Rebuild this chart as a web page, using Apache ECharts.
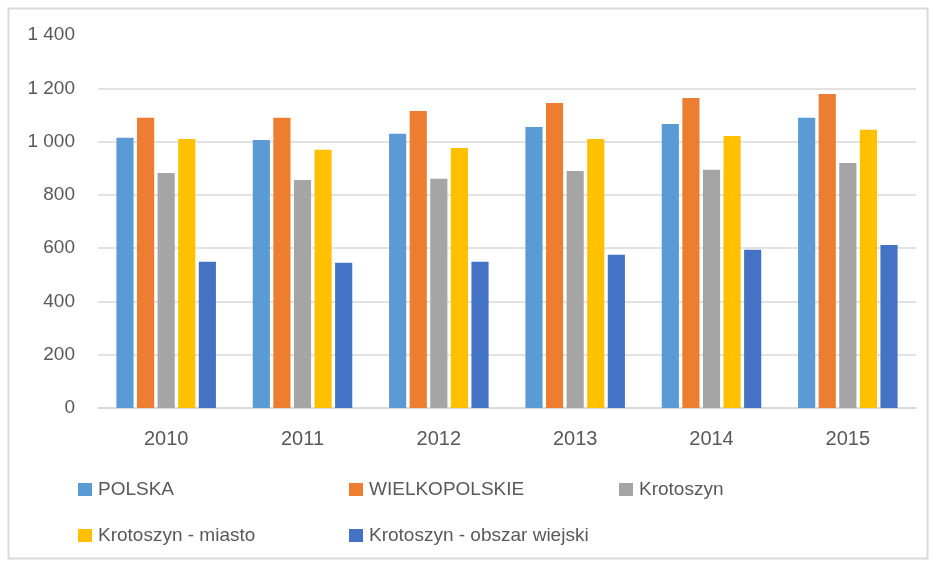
<!DOCTYPE html>
<html>
<head>
<meta charset="utf-8">
<script src="https://cdn.jsdelivr.net/npm/echarts@6/dist/echarts.min.js"></script>
<style>
html,body{margin:0;padding:0;background:#fff;}
#chart{width:930px;height:562px;}
</style>
</head>
<body>
<div id="chart"></div>
<script>
var years = ['2010', '2011', '2012', '2013', '2014', '2015'];
var seriesNames = ['POLSKA', 'WIELKOPOLSKIE', 'Krotoszyn', 'Krotoszyn - miasto', 'Krotoszyn - obszar wiejski'];
var polska = [1014, 1006, 1029, 1055, 1066, 1089];
var wielkopolskie = [1089, 1089, 1115, 1145, 1164, 1179];
var krotoszyn = [882, 856, 860, 890, 894, 920];
var krotoszynMiasto = [1010, 969, 976, 1010, 1021, 1044];
var krotoszynWies = [549, 545, 549, 575, 594, 612];
var yTicks = [0, 200, 400, 600, 800, 1000, 1200, 1400];

var colors = ['#5B9BD5', '#ED7D31', '#A5A5A5', '#FFC000', '#4472C4'];
var values = [polska, wielkopolskie, krotoszyn, krotoszynMiasto, krotoszynWies];

var legendPos = [[78, 480], [349, 480], [619, 480], [78, 526], [349, 526]];

var chart = echarts.init(document.getElementById('chart'));
var option = {
  animation: false,
  backgroundColor: '#fff',
  color: colors,
  grid: {left: 98, right: 14, top: 35, bottom: 154},
  graphic: [{
    type: 'rect', left: 6, top: 6,
    shape: {x: 0, y: 0, width: 919, height: 550},
    style: {fill: 'none', stroke: '#d9d9d9', lineWidth: 2},
    silent: true
  }],
  legend: seriesNames.map(function (n, i) {
    return {
      data: [n], left: legendPos[i][0], top: legendPos[i][1], padding: 0,
      itemWidth: 14, itemHeight: 13, itemGap: 6, icon: 'rect',
      textStyle: {color: '#595959', fontSize: 19, fontFamily: 'Liberation Sans', padding: [0, 0, 0, 1]}
    };
  }),
  xAxis: {
    type: 'category', data: years,
    axisLine: {show: true, lineStyle: {color: '#d9d9d9', width: 1.5}},
    axisTick: {show: false},
    axisLabel: {color: '#595959', fontSize: 20, fontFamily: 'Liberation Sans', margin: 21}
  },
  yAxis: {
    type: 'value', min: yTicks[0], max: yTicks[yTicks.length - 1], interval: 200,
    axisLine: {show: false}, axisTick: {show: false},
    splitLine: {lineStyle: {color: ['#d9d9d9', '#d9d9d9', '#d9d9d9', '#d9d9d9', '#d9d9d9', '#d9d9d9', '#d9d9d9', 'rgba(0,0,0,0)'], width: 1.5}},
    axisLabel: {
      color: '#595959', fontSize: 19, fontFamily: 'Liberation Sans', margin: 23,
      formatter: function (v) { return String(v).replace(/\B(?=(\d{3})+(?!\d))/g, ' '); }
    }
  },
  series: seriesNames.map(function (n, i) {
    return {
      name: n, type: 'bar', data: values[i],
      barCategoryGap: '27%', barGap: '20%',
      itemStyle: {color: colors[i]}
    };
  })
};
chart.setOption(option);
</script>
</body>
</html>
